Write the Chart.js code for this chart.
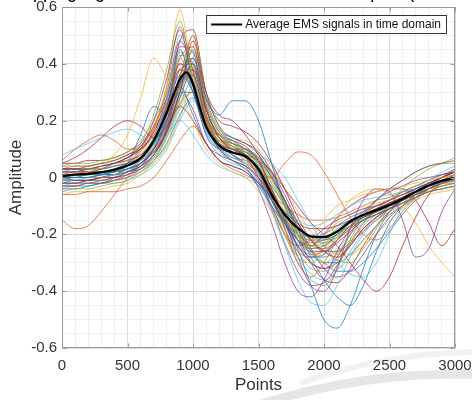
<!DOCTYPE html>
<html>
<head>
<meta charset="utf-8">
<script src="https://cdn.jsdelivr.net/npm/chart.js@4.4.1/dist/chart.umd.min.js"></script>
<style>
  html, body { margin:0; padding:0; background:#fff; }
</style>
</head>
<body>
<canvas id="myCanvas" width="472" height="400"></canvas>
<script>
// x positions (points) shared by the single sample traces
var pointsX = [0,100,200,300,400,500,600,700,800,900,1000,1100,1200,1300,1400,1500,
  1600,1700,1800,1900,2000,2100,2200,2300,2400,2500,2600,2700,2800,2900,3000];

// average curve, a bit denser round the peak
var avgX = [0,100,200,300,400,500,600,700,800,850,900,950,1000,1050,1100,1200,1300,1400,1500,
  1600,1700,1800,1900,2000,2100,2200,2300,2400,2500,2600,2700,2800,2900,3000];
var avgY = [0.005,0.01,0.013,0.018,0.027,0.042,0.068,0.13,0.23,0.29,0.345,0.37,0.33,0.25,0.18,0.112,0.088,0.075,0.03,
  -0.06,-0.13,-0.178,-0.207,-0.21,-0.19,-0.155,-0.132,-0.115,-0.097,-0.075,-0.05,-0.028,-0.012,-0.002];

// single samples (only a part of the bundle)
var s01 = [0.02,0.02,0.03,0.03,0.04,0.05,0.07,0.12,0.22,0.45,0.3,0.18,0.12,0.1,0.08,0.02,-0.08,-0.16,-0.22,-0.25,-0.24,-0.2,-0.16,-0.14,-0.12,-0.1,-0.08,-0.05,-0.03,-0.01,0.0];
var s02 = [-0.03,-0.03,-0.02,-0.02,-0.01,0.0,0.03,0.08,0.18,0.35,0.5,0.25,0.14,0.12,0.1,0.06,-0.05,-0.18,-0.3,-0.35,-0.3,-0.22,-0.17,-0.14,-0.12,-0.1,-0.08,-0.06,-0.04,-0.02,-0.01];
var s03 = [0.0,0.01,0.02,0.04,0.08,0.15,0.28,0.42,0.35,0.3,0.2,0.1,0.05,0.02,0.0,-0.05,-0.12,-0.2,-0.25,-0.22,-0.15,-0.1,-0.08,-0.06,-0.05,-0.04,-0.03,-0.02,-0.01,0.0,0.01];
var s04 = [0.03,0.03,0.02,0.02,0.03,0.05,0.1,0.2,0.35,0.52,0.32,0.15,0.1,0.09,0.07,0.0,-0.1,-0.2,-0.24,-0.22,-0.18,-0.15,-0.13,-0.11,-0.1,-0.08,-0.06,-0.04,-0.02,0.0,0.02];
var s05 = [-0.05,-0.04,-0.04,-0.03,-0.02,-0.01,0.02,0.06,0.15,0.28,0.4,0.22,0.12,0.1,0.09,0.07,0.0,-0.1,-0.2,-0.27,-0.3,-0.27,-0.2,-0.15,-0.12,-0.1,-0.07,-0.05,-0.04,-0.03,-0.02];
var s06 = [0.08,0.1,0.12,0.14,0.16,0.17,0.15,0.12,0.15,0.2,0.15,0.08,0.04,0.02,0.0,-0.03,-0.08,-0.12,-0.15,-0.17,-0.16,-0.13,-0.1,-0.08,-0.07,-0.06,-0.05,-0.04,-0.03,-0.02,-0.01];
var s07 = [0.0,-0.01,-0.01,0.0,0.0,0.02,0.04,0.08,0.16,0.3,0.48,0.3,0.22,0.2,0.15,0.08,0.0,-0.08,-0.16,-0.22,-0.26,-0.28,-0.24,-0.18,-0.14,-0.11,-0.08,-0.06,-0.04,-0.02,0.0];
var s08 = [0.01,0.0,0.0,0.01,0.02,0.03,0.05,0.1,0.2,0.3,0.3,0.18,0.1,0.06,0.03,-0.02,-0.08,-0.15,-0.25,-0.38,-0.5,-0.53,-0.45,-0.32,-0.2,-0.12,-0.08,-0.05,-0.03,-0.02,-0.01];
var s09 = [-0.15,-0.18,-0.17,-0.12,-0.06,0.0,0.05,0.1,0.2,0.35,0.38,0.2,0.1,0.06,0.04,0.0,-0.06,-0.14,-0.2,-0.24,-0.25,-0.22,-0.18,-0.15,-0.13,-0.11,-0.09,-0.07,-0.05,-0.04,-0.03];
var s10 = [0.02,0.02,0.03,0.03,0.04,0.06,0.1,0.18,0.3,0.42,0.33,0.2,0.13,0.1,0.06,0.0,-0.1,-0.2,-0.28,-0.3,-0.25,-0.15,-0.08,-0.05,-0.04,-0.06,-0.1,-0.16,-0.24,-0.3,-0.35];
var s11 = [-0.02,-0.02,-0.01,-0.01,0.0,0.01,0.03,0.08,0.17,0.33,0.36,0.2,0.12,0.1,0.1,0.06,-0.04,-0.15,-0.28,-0.38,-0.4,-0.32,-0.18,-0.08,-0.04,-0.05,-0.15,-0.28,-0.25,-0.12,-0.04];
var s12 = [0.04,0.04,0.04,0.05,0.06,0.08,0.12,0.22,0.38,0.55,0.34,0.18,0.13,0.12,0.1,0.05,-0.04,-0.14,-0.22,-0.24,-0.23,-0.2,-0.17,-0.14,-0.12,-0.1,-0.07,-0.05,-0.03,-0.01,0.01];
var s13 = [-0.01,-0.01,0.0,0.01,0.02,0.03,0.04,0.07,0.14,0.25,0.35,0.22,0.15,0.12,0.1,0.08,0.05,0.0,-0.08,-0.16,-0.24,-0.3,-0.34,-0.35,-0.3,-0.2,-0.1,-0.04,-0.01,0.02,0.04];
var s14 = [0.05,0.07,0.1,0.14,0.18,0.2,0.18,0.14,0.18,0.25,0.2,0.12,0.06,0.04,0.02,-0.02,-0.07,-0.12,-0.16,-0.18,-0.18,-0.17,-0.15,-0.13,-0.11,-0.09,-0.07,-0.05,-0.03,-0.01,0.0];
var s15 = [0.0,0.0,0.01,0.01,0.02,0.03,0.05,0.09,0.17,0.3,0.45,0.28,0.22,0.27,0.27,0.2,0.05,-0.1,-0.22,-0.28,-0.27,-0.22,-0.17,-0.14,-0.12,-0.1,-0.08,-0.06,-0.04,-0.02,0.0];
var s16 = [-0.06,-0.06,-0.05,-0.05,-0.05,-0.04,-0.03,0.0,0.06,0.13,0.18,0.12,0.06,0.03,0.01,-0.02,-0.06,-0.1,-0.13,-0.15,-0.15,-0.14,-0.12,-0.1,-0.08,-0.07,-0.05,-0.04,-0.03,-0.02,-0.02];
var s17 = [0.01,0.01,0.02,0.02,0.03,0.05,0.08,0.16,0.33,0.59,0.35,0.2,0.14,0.11,0.08,0.03,-0.06,-0.15,-0.2,-0.22,-0.2,-0.16,-0.13,-0.11,-0.09,-0.08,-0.06,-0.05,-0.03,-0.01,0.01];
var s18 = [0.03,0.03,0.03,0.04,0.05,0.06,0.08,0.13,0.22,0.38,0.4,0.22,0.12,0.08,0.04,-0.04,-0.16,-0.3,-0.4,-0.42,-0.36,-0.26,-0.18,-0.12,-0.08,-0.04,-0.01,0.02,0.04,0.05,0.06];
var s19 = [-0.02,-0.02,-0.02,-0.01,0.0,0.01,0.03,0.07,0.16,0.32,0.5,0.3,0.18,0.12,0.1,0.07,0.0,-0.08,-0.16,-0.22,-0.26,-0.29,-0.3,-0.25,-0.18,-0.1,-0.04,0.0,0.03,0.05,0.07];
var s20 = [0.01,0.01,0.01,0.02,0.03,0.04,0.07,0.14,0.27,0.42,0.3,0.16,0.1,0.08,0.05,-0.02,-0.12,-0.24,-0.36,-0.44,-0.45,-0.38,-0.28,-0.2,-0.15,-0.12,-0.09,-0.06,-0.04,-0.02,-0.01];
var s21 = [0.0,0.01,0.01,0.02,0.02,0.03,0.05,0.09,0.16,0.28,0.38,0.24,0.14,0.1,0.08,0.06,0.02,-0.04,-0.1,-0.16,-0.2,-0.24,-0.3,-0.36,-0.4,-0.35,-0.24,-0.14,-0.06,-0.02,0.01];
var s22 = [-0.04,-0.04,-0.03,-0.02,0.0,0.05,0.15,0.25,0.22,0.32,0.22,0.12,0.06,0.04,0.02,-0.03,-0.1,-0.16,-0.2,-0.22,-0.22,-0.2,-0.17,-0.15,-0.13,-0.11,-0.09,-0.07,-0.05,-0.04,-0.03];
var s23 = [0.02,0.02,0.02,0.03,0.04,0.05,0.07,0.1,0.16,0.26,0.3,0.2,0.14,0.1,0.06,0.02,0.0,0.05,0.09,0.08,0.02,-0.06,-0.14,-0.2,-0.22,-0.18,-0.12,-0.07,-0.03,0.0,0.02];
var s24 = [0.01,0.0,0.0,0.0,0.01,0.02,0.04,0.08,0.17,0.31,0.46,0.27,0.16,0.12,0.1,0.06,-0.02,-0.1,-0.18,-0.25,-0.3,-0.32,-0.28,-0.22,-0.17,-0.13,-0.1,-0.07,-0.05,-0.03,-0.02];
var s25 = [-0.03,-0.03,-0.02,-0.02,-0.01,0.01,0.04,0.1,0.2,0.3,0.24,0.12,0.08,0.06,0.04,0.0,-0.08,-0.16,-0.24,-0.3,-0.32,-0.28,-0.2,-0.13,-0.08,-0.05,-0.03,-0.01,0.0,0.01,0.02];
var s26 = [0.02,0.03,0.03,0.04,0.05,0.06,0.08,0.12,0.2,0.36,0.44,0.26,0.16,0.12,0.08,0.02,-0.08,-0.2,-0.3,-0.36,-0.38,-0.32,-0.22,-0.14,-0.08,-0.04,-0.01,0.02,0.04,0.05,0.05];
var s27 = [-0.01,-0.01,0.0,0.0,0.01,0.03,0.06,0.13,0.28,0.5,0.36,0.2,0.14,0.12,0.1,0.04,-0.06,-0.16,-0.24,-0.28,-0.28,-0.25,-0.2,-0.16,-0.13,-0.1,-0.08,-0.06,-0.04,-0.02,-0.01];
var s28 = [0.03,0.03,0.04,0.05,0.06,0.08,0.1,0.15,0.25,0.4,0.34,0.2,0.14,0.11,0.08,0.02,-0.07,-0.16,-0.22,-0.24,-0.2,-0.14,-0.1,-0.07,-0.05,-0.04,-0.04,-0.08,-0.16,-0.24,-0.18];
var s29 = [0.0,0.0,0.0,0.01,0.01,0.02,0.04,0.08,0.16,0.3,0.4,0.25,0.16,0.13,0.1,0.06,0.0,-0.08,-0.18,-0.28,-0.36,-0.42,-0.45,-0.38,-0.26,-0.16,-0.1,-0.06,-0.03,-0.01,0.0];
var s30 = [0.06,0.1,0.13,0.15,0.13,0.1,0.1,0.16,0.25,0.38,0.3,0.18,0.12,0.1,0.08,0.03,-0.05,-0.14,-0.2,-0.23,-0.22,-0.19,-0.16,-0.13,-0.11,-0.09,-0.07,-0.05,-0.03,-0.01,0.0];
var s31 = [0.0,0.0,0.01,0.01,0.02,0.03,0.06,0.11,0.21,0.4,0.36,0.19,0.12,0.09,0.07,0.02,-0.07,-0.15,-0.21,-0.24,-0.24,-0.21,-0.17,-0.14,-0.12,-0.1,-0.08,-0.06,-0.04,-0.02,-0.01];
var s32 = [-0.02,-0.02,-0.01,0.0,0.01,0.02,0.04,0.1,0.2,0.36,0.42,0.24,0.14,0.1,0.09,0.05,-0.04,-0.14,-0.24,-0.3,-0.32,-0.3,-0.24,-0.18,-0.14,-0.1,-0.07,-0.04,-0.02,0.0,0.02];
var s33 = [0.04,0.05,0.05,0.06,0.07,0.09,0.13,0.2,0.3,0.44,0.4,0.22,0.14,0.11,0.09,0.05,-0.02,-0.1,-0.17,-0.21,-0.21,-0.18,-0.15,-0.12,-0.1,-0.08,-0.05,-0.03,-0.01,0.01,0.03];
var s34 = [-0.04,-0.03,-0.03,-0.02,-0.01,0.0,0.02,0.06,0.14,0.26,0.34,0.2,0.11,0.07,0.05,0.01,-0.07,-0.18,-0.28,-0.34,-0.36,-0.33,-0.26,-0.19,-0.14,-0.11,-0.09,-0.07,-0.05,-0.04,-0.03];
var s35 = [0.01,0.02,0.02,0.03,0.05,0.07,0.11,0.18,0.3,0.48,0.38,0.21,0.15,0.13,0.11,0.06,-0.04,-0.14,-0.22,-0.26,-0.26,-0.23,-0.19,-0.15,-0.12,-0.09,-0.07,-0.05,-0.03,-0.01,0.01];
var s36 = [-0.01,-0.01,-0.01,0.0,0.01,0.02,0.05,0.1,0.19,0.33,0.42,0.27,0.17,0.14,0.12,0.08,0.01,-0.08,-0.18,-0.26,-0.3,-0.3,-0.27,-0.22,-0.17,-0.13,-0.1,-0.07,-0.04,-0.02,0.0];
var s37 = [0.03,0.04,0.04,0.05,0.06,0.08,0.11,0.17,0.26,0.38,0.32,0.18,0.12,0.1,0.07,0.01,-0.08,-0.17,-0.24,-0.27,-0.26,-0.22,-0.18,-0.15,-0.13,-0.11,-0.09,-0.07,-0.05,-0.03,-0.02];
var s38 = [-0.06,-0.05,-0.05,-0.04,-0.03,-0.02,0.01,0.05,0.12,0.24,0.3,0.18,0.1,0.07,0.05,0.02,-0.04,-0.12,-0.2,-0.26,-0.28,-0.26,-0.22,-0.18,-0.15,-0.12,-0.1,-0.08,-0.06,-0.05,-0.04];
var s39 = [0.02,0.02,0.03,0.04,0.05,0.07,0.1,0.16,0.27,0.46,0.44,0.24,0.15,0.12,0.1,0.07,0.02,-0.06,-0.16,-0.25,-0.32,-0.35,-0.33,-0.27,-0.2,-0.14,-0.1,-0.06,-0.03,0.0,0.03];
var s40 = [0.0,0.0,0.0,0.01,0.02,0.04,0.07,0.13,0.24,0.4,0.34,0.19,0.13,0.11,0.09,0.04,-0.05,-0.16,-0.26,-0.32,-0.33,-0.29,-0.23,-0.17,-0.13,-0.1,-0.07,-0.05,-0.03,-0.01,0.0];
var s41 = [-0.03,-0.02,-0.02,-0.01,0.0,0.02,0.05,0.11,0.22,0.38,0.3,0.15,0.08,0.05,0.03,-0.02,-0.1,-0.2,-0.28,-0.3,-0.27,-0.21,-0.16,-0.13,-0.11,-0.09,-0.07,-0.05,-0.03,-0.02,-0.01];
var s42 = [0.05,0.05,0.06,0.06,0.07,0.09,0.12,0.18,0.28,0.42,0.46,0.28,0.2,0.18,0.16,0.12,0.05,-0.04,-0.14,-0.22,-0.26,-0.26,-0.23,-0.19,-0.15,-0.11,-0.08,-0.05,-0.02,0.0,0.02];
var s43 = [-0.01,0.0,0.0,0.01,0.01,0.02,0.03,0.06,0.12,0.22,0.28,0.17,0.1,0.07,0.06,0.03,-0.03,-0.1,-0.18,-0.25,-0.3,-0.33,-0.33,-0.3,-0.25,-0.19,-0.13,-0.08,-0.04,-0.01,0.01];
var s44 = [0.02,0.02,0.02,0.02,0.03,0.05,0.09,0.17,0.32,0.53,0.37,0.2,0.13,0.1,0.08,0.03,-0.07,-0.18,-0.26,-0.28,-0.25,-0.2,-0.16,-0.13,-0.1,-0.08,-0.06,-0.04,-0.02,0.0,0.01];
var s45 = [-0.02,-0.02,-0.02,-0.01,-0.01,0.0,0.02,0.05,0.11,0.21,0.32,0.22,0.16,0.14,0.13,0.1,0.04,-0.04,-0.12,-0.19,-0.24,-0.27,-0.27,-0.24,-0.2,-0.15,-0.11,-0.07,-0.04,-0.02,0.0];
var s46 = [0.01,0.01,0.02,0.02,0.03,0.04,0.06,0.1,0.18,0.32,0.4,0.22,0.12,0.08,0.05,-0.01,-0.11,-0.23,-0.33,-0.38,-0.37,-0.31,-0.23,-0.16,-0.11,-0.08,-0.05,-0.03,-0.01,0.01,0.02];
var s47 = [0.0,0.01,0.01,0.02,0.03,0.05,0.08,0.14,0.25,0.43,0.4,0.22,0.15,0.12,0.1,0.06,-0.01,-0.09,-0.17,-0.22,-0.23,-0.21,-0.18,-0.15,-0.12,-0.1,-0.08,-0.05,-0.03,-0.01,0.01];
var s48 = [-0.03,-0.03,-0.03,-0.02,-0.02,-0.01,0.01,0.04,0.1,0.2,0.27,0.16,0.09,0.06,0.04,0.0,-0.06,-0.13,-0.19,-0.22,-0.22,-0.2,-0.17,-0.14,-0.12,-0.1,-0.08,-0.06,-0.04,-0.03,-0.02];
var s49 = [0.03,0.03,0.03,0.04,0.05,0.07,0.1,0.16,0.28,0.48,0.52,0.3,0.18,0.14,0.12,0.09,0.02,-0.08,-0.2,-0.3,-0.36,-0.37,-0.32,-0.24,-0.17,-0.12,-0.08,-0.05,-0.02,0.0,0.02];
var s50 = [-0.02,-0.01,-0.01,0.0,0.01,0.03,0.06,0.12,0.23,0.36,0.3,0.17,0.11,0.09,0.07,0.03,-0.05,-0.13,-0.19,-0.21,-0.2,-0.17,-0.14,-0.12,-0.1,-0.08,-0.06,-0.04,-0.02,-0.01,0.0];

var samples = [s01,s02,s03,s04,s05,s06,s07,s08,s09,s10,s11,s12,s13,s14,s15,s16,s17,s18,s19,s20,s21,s22,s23,s24,s25,
  s26,s27,s28,s29,s30,s31,s32,s33,s34,s35,s36,s37,s38,s39,s40,s41,s42,s43,s44,s45,s46,s47,s48,s49,s50];

var xTicks = [0,500,1000,1500,2000,2500,3000];
var yTicks = [-0.6,-0.4,-0.2,0,0.2,0.4,0.6];

var titleText = "Overlapping signals in time domain from the samples (n = 100)";
var legendText = "Average EMS signals in time domain";

// matlab colour order
var colors = ["#0072BD","#D95319","#EDB120","#7E2F8E","#77AC30","#4DBEEE","#A2142F"];
var FONT = "'Liberation Sans', Arial, sans-serif";

function pairs(xs, ys){
  return ys.map(function(y, i){ return {x: xs[i], y: y}; });
}

var datasets = [{
  label: legendText,
  data: pairs(avgX, avgY),
  borderColor: "#000",
  borderWidth: 2.3,
  order: 0
}];
samples.forEach(function(s, i){
  datasets.push({
    label: "sample " + (i + 1),
    data: pairs(pointsX, s),
    borderColor: colors[i % 7] + "c8",
    borderWidth: 0.9,
    order: 1
  });
});

function isMajor(v, step){
  return Math.abs(v / step - Math.round(v / step)) < 1e-6;
}

// box round the axes with small inner ticks, like matlab "box on"
var boxPlugin = {
  id: "box",
  afterDatasetsDraw: function(chart){
    var a = chart.chartArea, ctx = chart.ctx;
    var L = Math.round(a.left) + 0.5, T = Math.round(a.top) + 0.5;
    var R = Math.round(a.right) - 0.5, B = Math.round(a.bottom) - 0.5;
    ctx.save();
    ctx.strokeStyle = "#9a9a9a";
    ctx.lineWidth = 1;
    ctx.strokeRect(L, T, R - L, B - T);
    ctx.beginPath();
    xTicks.forEach(function(v){
      var px = Math.round(chart.scales.x.getPixelForValue(v)) + 0.5;
      ctx.moveTo(px, B); ctx.lineTo(px, B - 4);
      ctx.moveTo(px, T); ctx.lineTo(px, T + 4);
    });
    yTicks.forEach(function(v){
      var py = Math.round(chart.scales.y.getPixelForValue(v)) + 0.5;
      ctx.moveTo(L, py); ctx.lineTo(L + 4, py);
      ctx.moveTo(R, py); ctx.lineTo(R - 4, py);
    });
    ctx.stroke();
    ctx.restore();
  }
};

// legend box in the upper right corner
var legendPlugin = {
  id: "legendBox",
  afterDraw: function(chart){
    var a = chart.chartArea, ctx = chart.ctx;
    ctx.save();
    ctx.font = "12px " + FONT;
    var tw = ctx.measureText(legendText).width;
    var right = Math.round(a.right) - 9, top = Math.round(a.top) + 8;
    var w = tw + 44, h = 18;
    var left = right - w;
    ctx.fillStyle = "#fff";
    ctx.fillRect(left, top, w, h);
    ctx.strokeStyle = "#333";
    ctx.lineWidth = 1;
    ctx.strokeRect(left + 0.5, top + 0.5, w, h);
    ctx.strokeStyle = "#000";
    ctx.lineWidth = 2;
    ctx.beginPath();
    ctx.moveTo(left + 5, top + h / 2 + 0.5);
    ctx.lineTo(left + 36, top + h / 2 + 0.5);
    ctx.stroke();
    ctx.fillStyle = "#111";
    ctx.textBaseline = "middle";
    ctx.fillText(legendText, left + 39, top + h / 2 + 1);
    ctx.restore();
  }
};

// title is cut off by the top edge in the picture
var titlePlugin = {
  id: "cutTitle",
  afterDraw: function(chart){
    var ctx = chart.ctx;
    ctx.save();
    ctx.font = "18px " + FONT;
    ctx.fillStyle = "#000";
    ctx.textAlign = "left";
    ctx.textBaseline = "alphabetic";
    var pre = ctx.measureText("Overlappin").width;
    ctx.fillText(titleText, 67 - pre, -2);
    ctx.restore();
  }
};

// faint grey watermark arcs bottom right
var markPlugin = {
  id: "mark",
  beforeDraw: function(chart){
    var ctx = chart.ctx;
    ctx.save();
    ctx.fillStyle = "#fff";
    ctx.fillRect(0, 0, chart.width, chart.height);
    ctx.strokeStyle = "#e6e6e6";
    ctx.lineWidth = 9;
    ctx.beginPath();
    ctx.moveTo(262, 404);
    ctx.quadraticCurveTo(360, 372, 476, 374);
    ctx.stroke();
    ctx.strokeStyle = "#f2f2f2";
    ctx.lineWidth = 6;
    ctx.beginPath();
    ctx.moveTo(300, 383);
    ctx.quadraticCurveTo(390, 352, 476, 352);
    ctx.stroke();
    ctx.restore();
  }
};

var ctx = document.getElementById("myCanvas").getContext("2d");
var chart = new Chart(ctx, {
  type: "line",
  data: { datasets: datasets },
  options: {
    responsive: false,
    animation: false,
    devicePixelRatio: 1,
    layout: { padding: { left: 0, right: 17, top: 7, bottom: 0 } },
    elements: {
      point: { radius: 0 },
      line: { cubicInterpolationMode: "monotone", fill: false }
    },
    plugins: {
      legend: { display: false },
      tooltip: { enabled: false }
    },
    scales: {
      x: {
        type: "linear",
        min: 0, max: 3000,
        afterBuildTicks: function(scale){
          var t = [];
          for (var v = 0; v <= 3000; v += 100) t.push({value: v});
          scale.ticks = t;
        },
        afterFit: function(scale){
          scale.height = 52;
          scale.paddingLeft = 0;
          scale.paddingRight = 0;
        },
        ticks: {
          autoSkip: false, maxRotation: 0, padding: 9,
          color: "#333",
          font: { family: FONT, size: 15 },
          callback: function(v){ return xTicks.indexOf(v) >= 0 ? String(v) : ""; }
        },
        grid: {
          drawTicks: false,
          color: function(c){ return isMajor(c.tick.value, 500) ? "#dadada" : "#efefef"; }
        },
        border: { display: false },
        title: {
          display: true, text: "Points", color: "#333",
          font: { family: FONT, size: 17 },
          padding: { top: 0, bottom: 4 }
        }
      },
      y: {
        type: "linear",
        min: -0.6, max: 0.6,
        afterBuildTicks: function(scale){
          var t = [];
          for (var k = -12; k <= 12; k++) t.push({value: k / 20});
          scale.ticks = t;
        },
        afterFit: function(scale){
          scale.width = 62;
          scale.paddingTop = 0;
          scale.paddingBottom = 0;
        },
        ticks: {
          autoSkip: false, padding: 5,
          color: "#333",
          font: { family: FONT, size: 15 },
          callback: function(v){
            if (!isMajor(v, 0.2)) return "";
            var r = Math.round(v * 10) / 10;
            return yTicks.indexOf(r) >= 0 ? String(r) : "";
          }
        },
        grid: {
          drawTicks: false,
          color: function(c){ return isMajor(c.tick.value, 0.2) ? "#dadada" : "#efefef"; }
        },
        border: { display: false },
        title: {
          display: true, text: "Amplitude", color: "#333",
          font: { family: FONT, size: 17 },
          padding: { top: 6, bottom: 0 }
        }
      }
    }
  },
  plugins: [markPlugin, boxPlugin, legendPlugin, titlePlugin]
});
</script>
</body>
</html>
